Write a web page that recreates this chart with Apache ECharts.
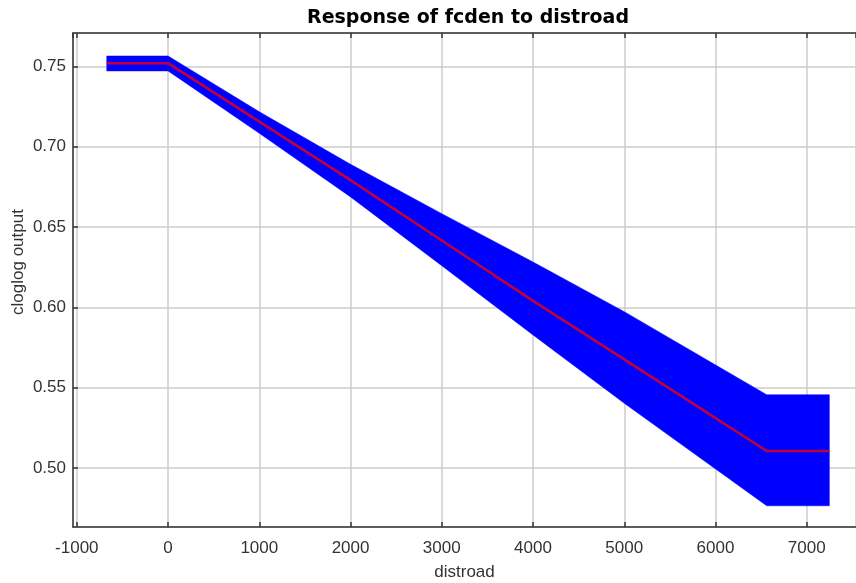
<!DOCTYPE html>
<html>
<head>
<meta charset="utf-8">
<script src="https://cdn.jsdelivr.net/npm/echarts@6/dist/echarts.min.js"></script>
<style>
html,body{margin:0;padding:0;background:#fff;}
#c{width:856px;height:583px;}
</style>
</head>
<body>
<div id="c"></div>
<script>
const titleText = 'Response of fcden to distroad';
const xName = 'distroad';
const yName = 'cloglog output';

const xBand = [-672, 0, 1000, 2000, 3000, 4000, 5000, 6561, 7248];
const upper = [0.7564, 0.7564, 0.7217, 0.6890, 0.6583, 0.6282, 0.5973, 0.5456, 0.5456];
const lower = [0.7471, 0.7471, 0.7083, 0.6687, 0.6259, 0.5828, 0.5403, 0.4765, 0.4765];
const mean  = [0.7519, 0.7519, 0.7155, 0.6792, 0.6416, 0.6040, 0.5676, 0.5106, 0.5106];

const xMin = -1042, xMax = 7540;
const yMin = 0.4633, yMax = 0.7707;

const meanData = xBand.map((x, i) => [x, mean[i]]);
const bandData = xBand.map((x, i) => [x, lower[i], upper[i]]);

function renderBand(params, api) {
  if (params.dataIndex !== 0) return null;
  const top = xBand.map((x, i) => api.coord([x, upper[i]]));
  const bot = xBand.map((x, i) => api.coord([x, lower[i]])).reverse();
  return {
    type: 'polygon',
    shape: {points: top.concat(bot)},
    style: {fill: '#0000ff', stroke: '#0000ff', lineWidth: 0.5}
  };
}

const chart = echarts.init(document.getElementById('c'), null, {renderer: 'canvas'});
const labelFont = {fontFamily: 'Liberation Sans', fontSize: 17, color: '#333'};
chart.setOption({
  animation: false,
  backgroundColor: '#fff',
  title: {
    text: titleText,
    left: 463, top: 4, textAlign: 'center',
    textStyle: {fontFamily: 'DejaVu Sans', fontWeight: 'bold', fontSize: 19, color: '#000'}
  },
  grid: {left: 73, right: 0, top: 33, bottom: 56, containLabel: false, outerBoundsMode: 'none'},
  xAxis: [{
    type: 'value', min: xMin, max: xMax, splitNumber: 9,
    name: xName, nameLocation: 'middle', nameGap: 37,
    nameTextStyle: labelFont,
    axisLine: {show: true, onZero: false, lineStyle: {color: '#333', width: 1.5}},
    axisTick: {show: true, inside: true, length: 5, lineStyle: {color: '#333', width: 1.5}},
    axisLabel: Object.assign({margin: 13, showMinLabel: false, showMaxLabel: false,
      formatter: v => String(v)}, labelFont),
    splitLine: {show: true, lineStyle: {color: '#cdcdcd', width: 1.5}}
  }, {
    type: 'value', position: 'top', min: xMin, max: xMax, splitNumber: 9,
    axisLine: {show: true, onZero: false, lineStyle: {color: '#333', width: 1.5}},
    axisTick: {show: true, inside: true, length: 5, lineStyle: {color: '#333', width: 1.5}},
    axisLabel: {show: false},
    splitLine: {show: false}
  }],
  yAxis: {
    type: 'value', min: yMin, max: yMax, splitNumber: 6,
    axisLine: {show: true, onZero: false, lineStyle: {color: '#333', width: 1.5}},
    axisTick: {show: true, inside: true, length: 5, lineStyle: {color: '#333', width: 1.5}},
    axisLabel: Object.assign({margin: 7, showMinLabel: false, showMaxLabel: false,
      formatter: v => v.toFixed(2)}, labelFont),
    splitLine: {show: true, lineStyle: {color: '#cdcdcd', width: 1.5}}
  },
  graphic: [{
    type: 'text', x: 18, y: 262, rotation: Math.PI / 2,
    style: {text: yName, font: '17px "Liberation Sans"', fill: '#333',
      textAlign: 'center', textVerticalAlign: 'middle'}
  }],
  series: [{
    type: 'custom', name: 'band', data: bandData, renderItem: renderBand,
    encode: {x: 0, y: [1, 2]}, silent: true, clip: true
  }, {
    type: 'line', name: 'mean', data: meanData,
    showSymbol: false, symbol: 'none', lineStyle: {width: 2.6, color: '#c0003a'}, silent: true
  }]
});
</script>
</body>
</html>
